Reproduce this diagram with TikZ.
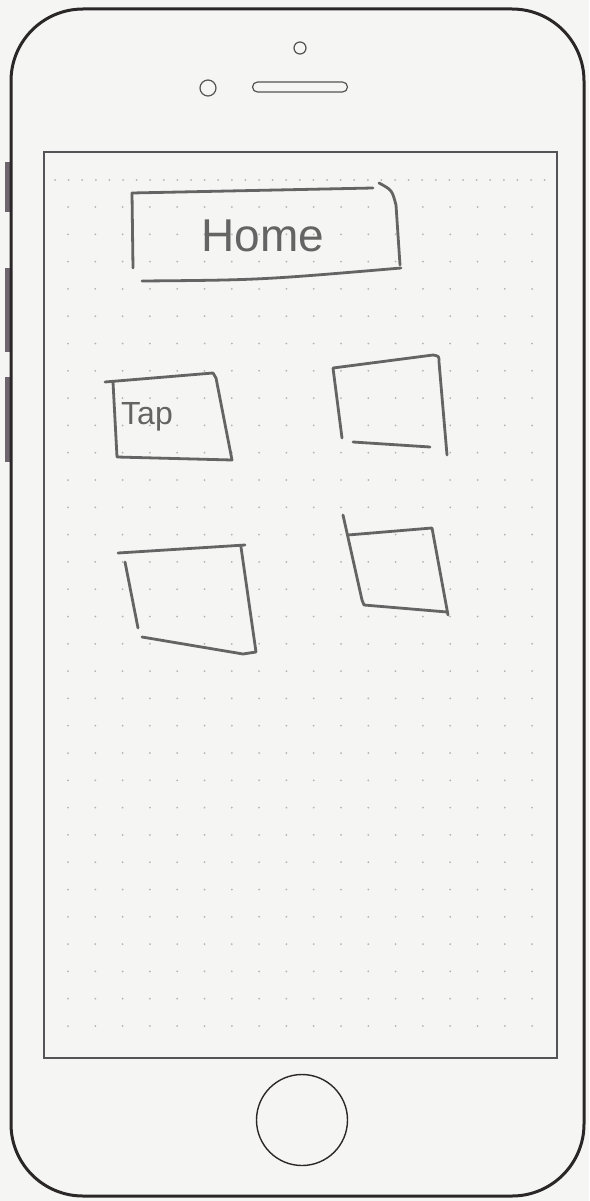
\documentclass[tikz,border=0pt]{standalone}
\usepackage{fontspec}
\newfontfamily\handfont{Liberation Sans}
\definecolor{bgc}{HTML}{F5F5F3}
\definecolor{phonec}{HTML}{2B2729}
\definecolor{screenc}{HTML}{555355}
\definecolor{penc}{HTML}{646464}
\definecolor{dotc}{HTML}{B4B4B4}
\definecolor{btnc}{HTML}{6E646E}
\tikzset{
  pen/.style={draw=penc, line width=2.8pt, line cap=round, line join=round},
  hand/.style={text=penc, inner sep=0pt, font=\handfont},
  griddot/.style={fill=dotc, draw=none},
}
\begin{document}
\begin{tikzpicture}[x=1pt,y=-1pt]
\fill[bgc] (0,0) rectangle (589,1201);
\useasboundingbox (0,0) rectangle (589,1201);
% side buttons
\foreach \a/\b in {162/212, 268/352, 377/462}
  \fill[btnc] (5,\a) rectangle (12,\b);
% phone body
\draw[phonec, line width=3pt, rounded corners=72pt] (11,9) rectangle (584,1196);
% screen
\draw[screenc, line width=1.8pt] (44,152) rectangle (557,1058);
% camera, sensor, speaker
\node[draw=phonec!80, line width=1.2pt, circle, minimum size=12pt, inner sep=0pt] (cam) at (300,48) {};
\node[draw=phonec!80, line width=1.2pt, circle, minimum size=16pt, inner sep=0pt] (sensor) at (208,88) {};
\node[draw=phonec!80, line width=1.2pt, rectangle, rounded corners=5pt, minimum width=95pt, minimum height=10pt, inner sep=0pt] (speaker) at (300,87) {};
% home button
\node[draw=phonec, line width=1.4pt, circle, minimum size=91pt, inner sep=0pt] (homebtn) at (302,1120) {};
% dots
\foreach \i in {0,...,36}
  \fill[griddot] (55+13.6*\i,180) circle (1pt);
\foreach \r in {0,...,30}
  \foreach \c in {0,...,17}
    \fill[griddot] (68+27.3*\c,207+27.3*\r) circle (1pt);
% Home box
\draw[pen] (132,193) -- (373,188);
\draw[pen] (132,193) -- (133,268);
\draw[pen] (379,183) .. controls (392,190) .. (396,205) -- (400,265);
\draw[pen] (142,281) .. controls (260,280) .. (401,268);
\node[hand, font=\handfont\fontsize{46}{46}\selectfont] (hometext) at (263,236) {Home};
% Tap box
\draw[pen] (105,382) -- (213,373) -- (216,378) -- (232,460) -- (117,457) -- (113,382);
\node[hand, font=\handfont\fontsize{32}{32}\selectfont, anchor=base west] (taptext) at (121,424) {Tap};
% box 2 (top right)
\draw[pen] (342,438) -- (333,368) -- (433,355) .. controls (439,356) .. (439,362) -- (447,455);
\draw[pen] (353,442) -- (430,447);
% box 3 (bottom left)
\draw[pen] (118,553) -- (245,545);
\draw[pen] (125,562) -- (138,628);
\draw[pen] (142,637) -- (243,654) -- (256,652) -- (241,547);
% box 4 (bottom right)
\draw[pen] (343,515) -- (362,600) -- (364,605) -- (447,612);
\draw[pen] (348,535) -- (432,528) -- (448,615);
\end{tikzpicture}
\end{document}
